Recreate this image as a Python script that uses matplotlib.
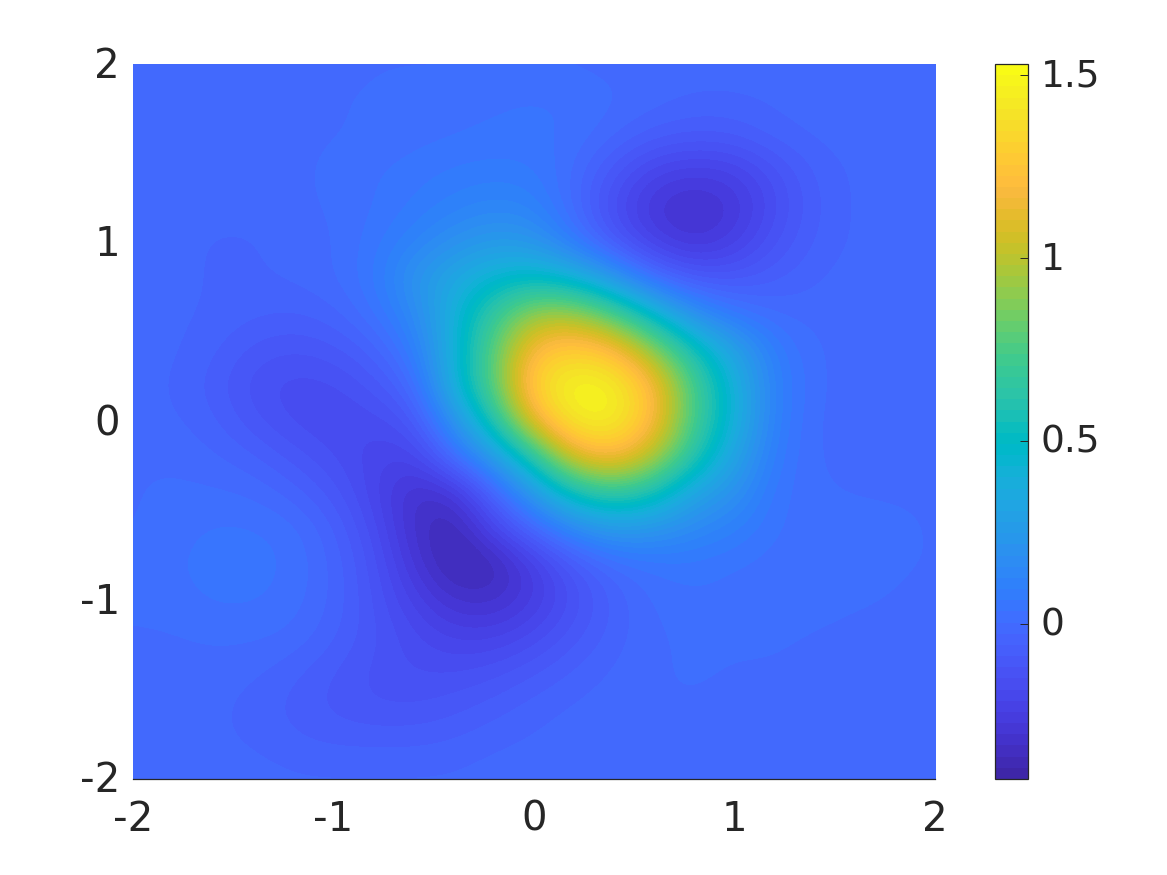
import matplotlib

matplotlib.use("Agg")
import matplotlib.pyplot as plt
import numpy as np
from matplotlib.colors import ListedColormap
from matplotlib.transforms import ScaledTranslation

# parula, 64 levels
PARULA = [
    (0.2422, 0.1504, 0.6603), (0.2504, 0.1650, 0.7076), (0.2578, 0.1818, 0.7511), (0.2647, 0.1978, 0.7952),
    (0.2706, 0.2147, 0.8364), (0.2751, 0.2342, 0.8710), (0.2783, 0.2559, 0.8991), (0.2803, 0.2782, 0.9221),
    (0.2813, 0.3006, 0.9414), (0.2810, 0.3228, 0.9579), (0.2795, 0.3447, 0.9717), (0.2760, 0.3667, 0.9829),
    (0.2699, 0.3892, 0.9906), (0.2602, 0.4123, 0.9952), (0.2440, 0.4358, 0.9988), (0.2206, 0.4603, 0.9973),
    (0.1963, 0.4847, 0.9892), (0.1834, 0.5074, 0.9798), (0.1786, 0.5289, 0.9682), (0.1764, 0.5499, 0.9520),
    (0.1687, 0.5703, 0.9359), (0.1540, 0.5902, 0.9218), (0.1460, 0.6091, 0.9079), (0.1380, 0.6276, 0.8973),
    (0.1248, 0.6459, 0.8883), (0.1113, 0.6635, 0.8763), (0.0952, 0.6798, 0.8598), (0.0689, 0.6948, 0.8394),
    (0.0297, 0.7082, 0.8163), (0.0036, 0.7203, 0.7917), (0.0067, 0.7312, 0.7660), (0.0433, 0.7411, 0.7394),
    (0.0964, 0.7500, 0.7120), (0.1408, 0.7584, 0.6842), (0.1717, 0.7670, 0.6554), (0.1938, 0.7758, 0.6251),
    (0.2161, 0.7843, 0.5923), (0.2470, 0.7918, 0.5567), (0.2906, 0.7973, 0.5188), (0.3406, 0.8008, 0.4789),
    (0.3909, 0.8029, 0.4354), (0.4456, 0.8024, 0.3909), (0.5044, 0.7993, 0.3480), (0.5616, 0.7942, 0.3045),
    (0.6174, 0.7876, 0.2612), (0.6720, 0.7793, 0.2227), (0.7242, 0.7698, 0.1910), (0.7738, 0.7598, 0.1646),
    (0.8203, 0.7498, 0.1535), (0.8634, 0.7406, 0.1596), (0.9035, 0.7330, 0.1774), (0.9393, 0.7288, 0.2100),
    (0.9728, 0.7298, 0.2394), (0.9956, 0.7434, 0.2371), (0.9970, 0.7659, 0.2199), (0.9952, 0.7893, 0.2028),
    (0.9892, 0.8136, 0.1885), (0.9786, 0.8386, 0.1766), (0.9676, 0.8639, 0.1643), (0.9610, 0.8890, 0.1537),
    (0.9597, 0.9135, 0.1423), (0.9628, 0.9373, 0.1265), (0.9691, 0.9606, 0.1064), (0.9769, 0.9839, 0.0805),
]

xy_ticks = [-2, -1, 0, 1, 2]
xy_labels = ["-2", "-1", "0", "1", "2"]
cbar_ticks = [0, 0.5, 1, 1.5]
cbar_labels = ["0", "0.5", "1", "1.5"]
value_min = -0.424
value_max = 1.53

# values, step 0.2, top row is y=2, first column is x=-2
values = [
    [-.01, -.01, -.01, -.01, -.01, -.01, .00, .00, .00, .00, .00, .00, -.01, -.01, -.01, -.01, -.01, -.01, -.01, -.01, -.01],
    [-.01, -.01, -.01, -.01, -.01, .00, .01, .02, .02, .03, .04, .03, .01, -.01, -.03, -.03, -.02, -.01, -.01, -.01, -.01],
    [-.01, -.01, -.02, -.02, -.01, .00, .01, .02, .03, .04, .04, .03, -.02, -.07, -.09, -.08, -.04, -.02, -.01, -.01, -.01],
    [-.01, -.02, -.02, -.02, -.01, .02, .03, .05, .07, .08, .07, .00, -.11, -.21, -.24, -.22, -.13, -.05, -.02, -.01, -.01],
    [-.01, -.02, -.02, -.02, -.01, .01, .03, .07, .11, .14, .12, -.01, -.17, -.29, -.33, -.28, -.16, -.06, -.02, -.01, -.01],
    [-.01, -.02, -.03, -.03, -.02, .00, .05, .12, .20, .26, .23, .07, -.10, -.23, -.29, -.23, -.12, -.05, -.02, -.01, -.01],
    [-.01, -.02, -.03, -.03, -.02, .00, .06, .22, .34, .45, .50, .42, .22, .00, -.10, -.10, -.06, -.03, -.01, -.01, .00],
    [-.01, -.02, -.03, -.05, -.06, -.04, .03, .15, .40, .68, .95, .95, .75, .45, .18, .05, .00, -.01, .00, .00, .00],
    [-.01, -.02, -.05, -.10, -.12, -.10, -.05, .08, .40, .80, 1.22, 1.31, 1.22, .90, .55, .30, .08, .00, -.01, .00, .00],
    [-.01, -.03, -.07, -.14, -.17, -.16, -.11, -.02, .40, .80, 1.35, 1.51, 1.47, 1.20, .72, .40, .10, .01, -.02, -.01, .00],
    [-.01, -.02, -.05, -.11, -.16, -.18, -.17, -.12, .20, .60, 1.15, 1.45, 1.47, 1.20, .72, .40, .09, .00, -.02, -.02, -.01],
    [.00, .00, -.02, -.05, -.10, -.15, -.20, -.22, .00, .25, .62, 1.10, 1.20, .98, .60, .30, .07, .00, -.01, -.01, -.01],
    [.00, .01, .01, .00, -.04, -.10, -.20, -.32, -.30, -.05, .25, .55, .68, .55, .30, .20, .04, .01, .00, .00, .00],
    [.00, .02, .04, .04, .02, -.05, -.16, -.32, -.39, -.20, -.03, .15, .25, .22, .15, .10, .03, .02, .02, .01, .00],
    [.01, .03, .05, .05, .03, -.03, -.13, -.28, -.40, -.38, -.24, -.10, .00, .04, .05, .03, .02, .02, .02, .01, .00],
    [.01, .02, .04, .04, .02, -.03, -.12, -.22, -.31, -.32, -.25, -.14, -.05, .01, .03, .02, .02, .02, .01, .00, -.01],
    [.00, .00, .01, .01, .00, -.05, -.11, -.17, -.22, -.22, -.17, -.10, -.04, .00, .01, .01, .01, .00, -.01, -.01, -.01],
    [-.01, -.01, -.01, -.02, -.05, -.09, -.13, -.15, -.15, -.13, -.09, -.05, -.02, .00, .01, .00, .00, -.01, -.01, -.01, -.01],
    [-.01, -.01, -.02, -.04, -.07, -.10, -.12, -.12, -.10, -.07, -.04, -.02, -.01, .00, .00, -.01, -.01, -.02, -.02, -.01, -.01],
    [-.01, -.01, -.02, -.03, -.05, -.06, -.06, -.06, -.05, -.03, -.02, -.01, .00, .00, .00, -.01, -.02, -.02, -.02, -.02, -.01],
    [-.01, -.01, -.01, -.01, -.02, -.02, -.02, -.02, -.02, -.01, -.01, .00, .00, .00, .00, -.01, -.01, -.01, -.01, -.01, -.01],
]

TEXT_COLOR = "#262626"
W, H = 1167, 875

plt.rcParams["font.family"] = "DejaVu Sans"

fig = plt.figure(figsize=(W / 100, H / 100), dpi=100)
ax = fig.add_axes([133 / W, (H - 779) / H, 802 / W, 715 / H])
cax = fig.add_axes([994.5 / W, (H - 779) / H, 33 / W, 715 / H])

image = ax.imshow(
    np.array(values),
    extent=(-2.1, 2.1, -2.1, 2.1),
    origin="upper",
    aspect="auto",
    cmap=ListedColormap(PARULA),
    vmin=value_min,
    vmax=value_max,
    interpolation="bicubic",
    zorder=1,
)
ax.set_xlim(-2, 2)
ax.set_ylim(-2, 2)
ax.set_axisbelow(True)
ax.set_xticks(xy_ticks, labels=xy_labels)
ax.set_yticks(xy_ticks, labels=xy_labels)
ax.tick_params(axis="x", direction="in", length=5.8, width=0.7, pad=15, colors=TEXT_COLOR, labelsize=29)
ax.tick_params(axis="y", direction="in", length=5.8, width=0.7, pad=9.5, colors=TEXT_COLOR, labelsize=29)
for side in ["top", "left", "right"]:
    ax.spines[side].set_visible(False)
ax.spines["bottom"].set_linewidth(0.9)
ax.spines["bottom"].set_color(TEXT_COLOR)

colorbar = fig.colorbar(image, cax=cax)
colorbar.set_ticks(cbar_ticks, labels=cbar_labels)
colorbar.ax.tick_params(direction="in", length=5.8, width=0.7, pad=9.5, colors=TEXT_COLOR, labelsize=27)
colorbar.outline.set_linewidth(0.9)
colorbar.outline.set_edgecolor(TEXT_COLOR)

# labels sit a little higher than the default centring
nudge = ScaledTranslation(0, 2 / 100, fig.dpi_scale_trans)
for label in ax.get_yticklabels() + cax.get_yticklabels():
    label.set_transform(label.get_transform() + nudge)

fig.savefig("out.png", dpi=100)
plt.close(fig)
